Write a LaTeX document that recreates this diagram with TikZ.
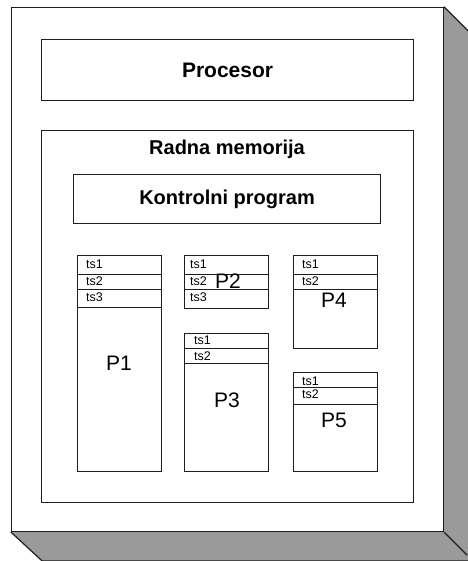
\documentclass[tikz,border=0pt]{standalone}
\usepackage{fontspec}
\setmainfont{Liberation Sans}
\usetikzlibrary{backgrounds}
\definecolor{shadowgray}{HTML}{9A9A9A}
\definecolor{edge}{HTML}{1E1E1E}
\tikzset{
  frontface/.style={draw=edge, line width=1.2pt, fill=white, inner sep=0pt, anchor=north west},
  box/.style={draw=edge, line width=1.1pt, fill=white, inner sep=0pt, anchor=north west},
  rowbox/.style={draw=edge, line width=1.1pt, inner sep=0pt, anchor=north west},
  tslabel/.style={font=\fontsize{12.5}{13}\selectfont, anchor=west, inner sep=0pt},
  plabel/.style={font=\fontsize{21}{23}\selectfont, inner sep=0pt},
  title/.style={font=\fontsize{20}{24}\selectfont\bfseries, inner sep=0pt},
  shadowface/.style={fill=shadowgray, draw=edge, line width=1.2pt, line join=round}
}
\begin{document}
\begin{tikzpicture}[x=1pt,y=-1pt]
\useasboundingbox (0,0) rectangle (467,561);
\clip (0,0) rectangle (467,561);

% front face
\node[frontface, minimum width=432pt, minimum height=524pt] (front) at (11,7) {};
\begin{scope}[on background layer]
  \filldraw[shadowface] (front.north east) -- ++(30,30) -- ++(0,524) -- ++(-432,0) -- (front.south west) -- cycle;
\end{scope}
\coordinate (se) at ([xshift=30pt,yshift=-30pt]front.south east);
\draw[edge, line width=1.2pt] (front.south east) -- (se);

% Procesor
\node[box, minimum width=372pt, minimum height=61pt] (cpu) at (41,39) {};
\node[title, font=\fontsize{21}{24}\selectfont\bfseries] (cpulabel) at (cpu.center) {Procesor};

% Radna memorija
\node[box, minimum width=372pt, minimum height=372pt] (mem) at (41,130) {};
\node[title] (memlabel) at (227,149) {Radna memorija};

% Kontrolni program
\node[box, minimum width=307pt, minimum height=49pt] (ctrl) at (73,174) {};
\node[title] (ctrllabel) at (ctrl.center) {Kontrolni program};

% P1
\node[box, minimum width=84pt, minimum height=216pt] (p1) at (77,255) {};
\node[rowbox, minimum width=84pt, minimum height=19pt] (p1r1) at (77,255) {};
\node[rowbox, minimum width=84pt, minimum height=15pt] (p1r2) at (77,274) {};
\node[rowbox, minimum width=84pt, minimum height=18pt] (p1r3) at (77,289) {};
\node[tslabel] (p1t1) at (86,264.5) {ts1};
\node[tslabel] (p1t2) at (86,281.5) {ts2};
\node[tslabel] (p1t3) at (86,297.5) {ts3};
\node[plabel] (p1l) at (119,363) {P1};

% P2
\node[box, minimum width=84pt, minimum height=53pt] (p2) at (184,255) {};
\node[rowbox, minimum width=84pt, minimum height=19pt] (p2r1) at (184,255) {};
\node[rowbox, minimum width=84pt, minimum height=15pt] (p2r2) at (184,274) {};
\node[tslabel] (p2t1) at (190,264.5) {ts1};
\node[tslabel] (p2t2) at (190,281.5) {ts2};
\node[tslabel] (p2t3) at (190,297.5) {ts3};
\node[plabel] (p2l) at (228,281) {P2};

% P3
\node[box, minimum width=84pt, minimum height=138pt] (p3) at (184,333) {};
\node[rowbox, minimum width=84pt, minimum height=15pt] (p3r1) at (184,333) {};
\node[rowbox, minimum width=84pt, minimum height=15pt] (p3r2) at (184,348) {};
\node[tslabel] (p3t1) at (194,340.5) {ts1};
\node[tslabel] (p3t2) at (194,356) {ts2};
\node[plabel] (p3l) at (227,400) {P3};

% P4
\node[box, minimum width=84pt, minimum height=93pt] (p4) at (293,255) {};
\node[rowbox, minimum width=84pt, minimum height=19pt] (p4r1) at (293,255) {};
\node[rowbox, minimum width=84pt, minimum height=15pt] (p4r2) at (293,274) {};
\node[tslabel] (p4t1) at (302,264.5) {ts1};
\node[tslabel] (p4t2) at (302,281.5) {ts2};
\node[plabel] (p4l) at (334,300) {P4};

% P5
\node[box, minimum width=84pt, minimum height=99pt] (p5) at (293,372) {};
\node[rowbox, minimum width=84pt, minimum height=15pt] (p5r1) at (293,372) {};
\node[rowbox, minimum width=84pt, minimum height=17pt] (p5r2) at (293,387) {};
\node[tslabel] (p5t1) at (302,381) {ts1};
\node[tslabel] (p5t2) at (302,394.5) {ts2};
\node[plabel] (p5l) at (334,420) {P5};
\end{tikzpicture}
\end{document}
